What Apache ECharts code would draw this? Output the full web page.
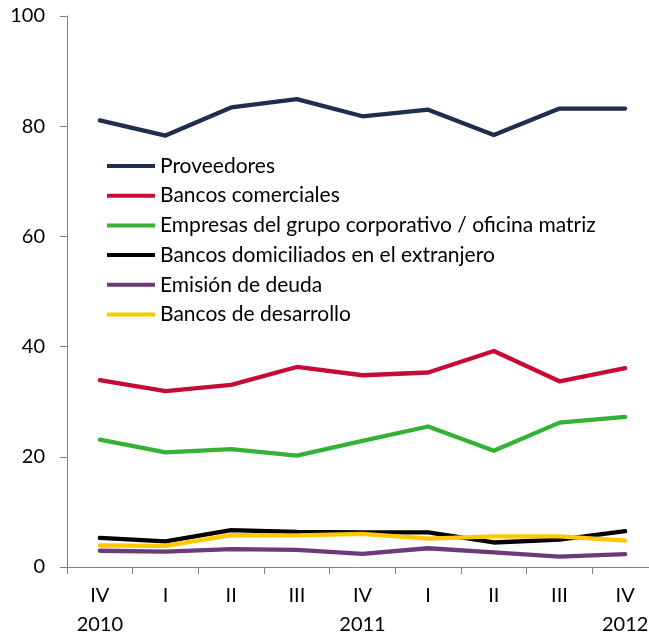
<!DOCTYPE html>
<html>
<head>
<meta charset="utf-8">
<script src="https://cdn.jsdelivr.net/npm/echarts@6/dist/echarts.min.js"></script>
<style>
  html, body { margin: 0; padding: 0; background: #fff; }
</style>
</head>
<body>
<div id="main" style="width: 649px; height: 634px;"></div>
<script type="text/javascript">
	// trimestres y años
	var quarters = ['IV', 'I', 'II', 'III', 'IV', 'I', 'II', 'III', 'IV'];
	var years = ['2010', '', '', '', '2011', '', '', '', '2012'];

	var proveedores = [81.05, 78.3, 83.4, 84.9, 81.8, 83.0, 78.4, 83.2, 83.2];
	var bancosComerciales = [33.9, 31.9, 33.05, 36.3, 34.8, 35.3, 39.2, 33.7, 36.1];
	var empresasGrupo = [23.1, 20.8, 21.4, 20.2, 22.9, 25.5, 21.1, 26.2, 27.25];
	var bancosExtranjero = [5.3, 4.65, 6.7, 6.35, 6.3, 6.3, 4.45, 4.95, 6.5];
	var emisionDeuda = [2.95, 2.8, 3.25, 3.1, 2.4, 3.4, 2.65, 1.9, 2.35];
	var bancosDesarrollo = [3.9, 3.85, 5.8, 5.75, 6.0, 5.15, 5.55, 5.55, 4.8];

	var fuente = 'Lato, "Open Sans", sans-serif';

	function linea(nombre, datos, color, z) {
		return {
			name: nombre,
			type: 'line',
			data: datos,
			symbol: 'none',
			z: z,
			lineStyle: { color: color, width: 4.3, cap: 'round', join: 'round' },
			itemStyle: { color: color }
		};
	}

	var myChart = echarts.init(document.getElementById('main'));

	myChart.setOption({
		animation: false,
		textStyle: { fontFamily: fuente },
		// el gráfico original está recortado por la derecha
		grid: { left: 67, right: -9, top: 16, bottom: 67, containLabel: false, outerBoundsMode: 'none' },
		legend: {
			orient: 'vertical',
			left: 107,
			top: 155.5,
			padding: 0,
			icon: 'rect',
			itemWidth: 48,
			itemHeight: 4,
			itemGap: 8.7,
			textStyle: { fontSize: 21, lineHeight: 20, color: '#000', fontFamily: fuente },
			data: ['Proveedores', 'Bancos comerciales', 'Empresas del grupo corporativo / oficina matriz',
				'Bancos domiciliados en el extranjero', 'Emisión de deuda', 'Bancos de desarrollo']
		},
		xAxis: {
			type: 'category',
			data: quarters,
			boundaryGap: true,
			axisLine: { lineStyle: { color: '#808080', width: 1 } },
			axisTick: { show: true, length: 7, lineStyle: { color: '#808080' } },
			axisLabel: {
				color: '#000',
				fontSize: 20,
				margin: 14,
				lineHeight: 29,
				formatter: function (v, i) { return v + '\n' + years[i]; }
			}
		},
		yAxis: {
			type: 'value',
			min: 0,
			max: 100,
			interval: 20,
			splitLine: { show: false },
			axisLine: { show: true, lineStyle: { color: '#808080', width: 1 } },
			axisTick: { show: true, length: 7, lineStyle: { color: '#808080' } },
			axisLabel: { color: '#000', fontSize: 20, margin: 22 }
		},
		series: [
			linea('Proveedores', proveedores, '#1f2e4c', 6),
			linea('Bancos comerciales', bancosComerciales, '#c60c36', 5),
			linea('Empresas del grupo corporativo / oficina matriz', empresasGrupo, '#35b236', 4),
			linea('Bancos domiciliados en el extranjero', bancosExtranjero, '#000000', 2),
			linea('Emisión de deuda', emisionDeuda, '#6b3a7b', 1),
			linea('Bancos de desarrollo', bancosDesarrollo, '#ffc800', 3)
		]
	});
</script>
</body>
</html>
